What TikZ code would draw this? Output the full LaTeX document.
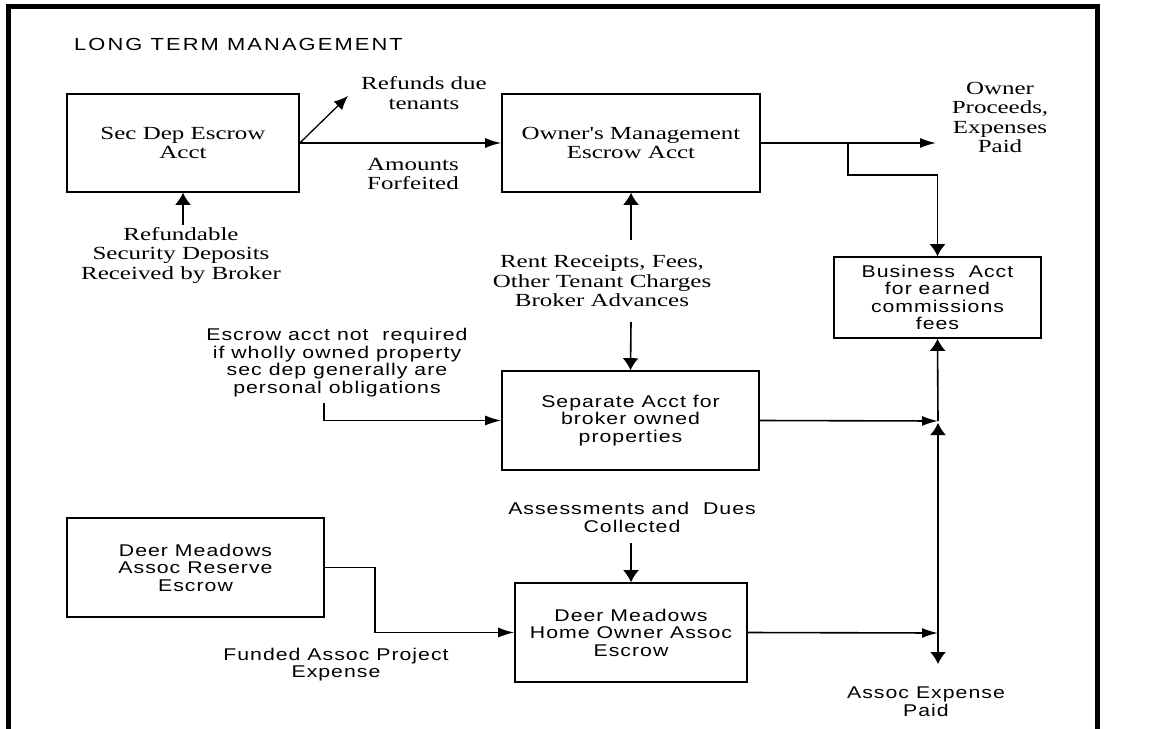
\documentclass[tikz,border=0pt]{standalone}
\usepackage{fontspec}
\newfontfamily\labelSerif{Liberation Serif}[FakeStretch=1.35]
\newfontfamily\labelSans{Liberation Sans}[FakeStretch=1.25,LetterSpace=6]
\newfontfamily\titleSans{Liberation Sans}[FakeStretch=1.25,LetterSpace=12]
\usetikzlibrary{arrows.meta}

\begin{document}
\begin{tikzpicture}
[x=1pt, y=-1pt,
 boxDecorate/.style={draw, line width=1.6pt, inner sep=0pt, align=center},
 serifText/.style={font=\labelSerif\fontsize{18.5}{19.5}\selectfont, align=center, inner sep=0pt},
 sansText/.style={font=\labelSans\fontsize{17}{17.5}\selectfont, align=center, inner sep=0pt},
 hArrow/.style={-{Latex[length=16pt,width=10pt]}, line width=1.6pt},
 vArrow/.style={-{Latex[length=12pt,width=16pt]}, line width=1.6pt},
 dArrow/.style={-{Latex[length=14pt,width=12pt]}, line width=1.3pt}]

 \useasboundingbox (0,0) rectangle (1161,728);
 % frame, open at the bottom
 \draw[line width=5pt] (8.5,740) -- (8.5,6.5) -- (1097,6.5) -- (1097,740);

 \node (title) at (74,44) [anchor=west, inner sep=0pt, font=\titleSans\fontsize{17.5}{18}\selectfont] {LONG TERM MANAGEMENT};

 % accounts
 \node (SD) at (183,143) [boxDecorate, serifText, minimum width=232pt, minimum height=98pt] {Sec Dep Escrow\\Acct};
 \node (OM) at (631,143) [boxDecorate, serifText, minimum width=258pt, minimum height=98pt] {Owner's Management\\Escrow Acct};
 \node (BA) at (937.5,297.5) [boxDecorate, sansText, minimum width=207pt, minimum height=81pt] {Business\ \ Acct\\for earned\\commissions\\fees};
 \node (SA) at (630.5,420.5) [boxDecorate, sansText, minimum width=257pt, minimum height=99pt] {Separate Acct for\\broker owned\\properties};
 \node (DR) at (195.5,567.5) [boxDecorate, sansText, minimum width=257pt, minimum height=99pt] {Deer Meadows\\Assoc Reserve\\Escrow};
 \node (DH) at (631,632.5) [boxDecorate, sansText, minimum width=232pt, minimum height=99pt] {Deer Meadows\\Home Owner Assoc\\Escrow};

 % labels
 \node (RD) at (424,93) [serifText] {Refunds due\\tenants};
 \node (AF) at (413,174) [serifText] {Amounts\\Forfeited};
 \node (RF) at (181,255) [serifText] {Refundable\\Security Deposits\\Received by Broker};
 \node (RR) at (602,281) [serifText] {Rent Receipts, Fees,\\Other Tenant Charges\\Broker Advances};
 \node (OP) at (1000,117.5) [serifText] {Owner\\Proceeds,\\Expenses\\Paid};
 \node (EN) at (337,362.5) [sansText] {Escrow acct not\ \ required\\if wholly owned property\\sec dep generally are\\personal obligations};
 \node (AD) at (632,517.5) [sansText] {Assessments and\ \ Dues\\Collected};
 \node (FA) at (336,664.5) [sansText] {Funded Assoc Project\\Expense};
 \node (AE) at (926,701.5) [sansText] {Assoc Expense\\Paid};

 % free ends and junctions
 \coordinate (rdTip) at (348,96);
 \coordinate (rfStart) at (183,225);
 \coordinate (rrUp) at (631,240);
 \coordinate (rrDown) at (631,322);
 \coordinate (opTip) at (936,143);
 \coordinate (omSplit) at (848,143);
 \coordinate (enStart) at (324,403);
 \coordinate (adStart) at (631,543);
 \coordinate (jA) at (938,421);
 \coordinate (jB) at (938,633);
 \coordinate (jC) at (938,664);

 \path
 (SD) edge[hArrow] (OM)
 (SD.east) edge[dArrow] (rdTip)
 (rfStart) edge[vArrow] (SD.south)
 (rrUp) edge[vArrow] (OM.south)
 (rrDown) edge[vArrow] (SA.north)
 (OM.east) edge[hArrow] (opTip)
 (adStart) edge[vArrow] (DH.north)
 (SA.east) edge[hArrow] (jA)
 (DH.east) edge[hArrow] (jB)
 (jA) edge[vArrow] (BA.south)
 (jB) edge[vArrow] ([yshift=-2pt]jA)
 (jB) edge[vArrow] (jC);

 \draw[vArrow] (omSplit) -- ++(0,32) -| (BA.north);
 \draw[hArrow] (enStart) |- (SA.west);
 \draw[hArrow] (DR.east) -- ++(50,0) |- (DH.west);
\end{tikzpicture}
\end{document}
